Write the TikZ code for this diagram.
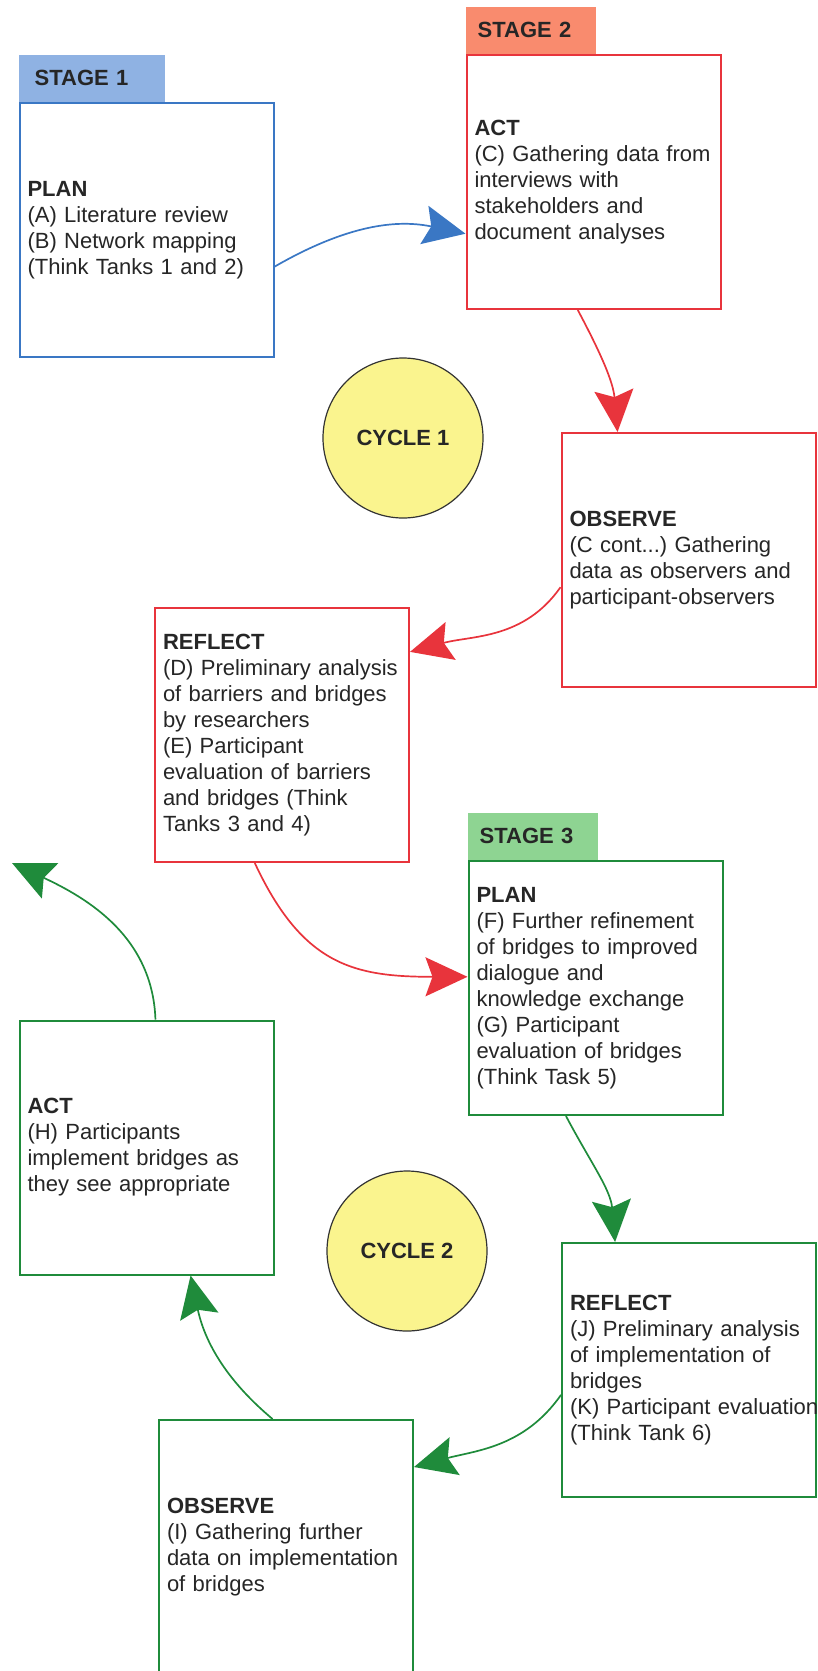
\documentclass[tikz,border=0pt]{standalone}
\usepackage{fontspec}
\setmainfont{Liberation Sans}
\usepackage{xcolor}
\usetikzlibrary{positioning,arrows.meta}

\definecolor{planblue}{HTML}{3A77C4}
\definecolor{stageblue}{HTML}{8FB2E3}
\definecolor{actred}{HTML}{E8343C}
\definecolor{stagered}{HTML}{F98B6E}
\definecolor{cyclegreen}{HTML}{1F8B3B}
\definecolor{stagegreen}{HTML}{8ED492}
\definecolor{cycleyellow}{HTML}{FAF48E}

\begin{document}
\begin{tikzpicture}
		[x=1pt,y=1pt,>={Stealth[length=42pt,width=39pt,inset=7pt]},
		box/.style={rectangle,fill=white,line width=2pt,minimum width=254pt,minimum height=254pt,inner xsep=8pt,text width=238pt,align=left,text=black!85,font=\fontsize{22}{26}\selectfont},
		bluebox/.style={box,draw=planblue},
		redbox/.style={box,draw=actred},
		greenbox/.style={box,draw=cyclegreen},
		tab/.style={rectangle,minimum height=47pt,inner xsep=12pt,text width=106pt,align=left,text=black!85,font=\bfseries\fontsize{22}{26}\selectfont},
		cycle/.style={circle,draw=black!80,fill=cycleyellow,line width=1.2pt,inner sep=0pt,minimum size=160pt,text=black!85,font=\bfseries\fontsize{22}{26}\selectfont},
		link/.style={->,line width=1.7pt}]
		\useasboundingbox (0,0) rectangle (817,-1671);

		\node [bluebox] (plan1) at (146.5,-230) {\textbf{PLAN}\\(A) Literature review\\(B) Network mapping\\(Think Tanks 1 and 2)};
		\node [redbox] (act1) at (593.5,-182) {\textbf{ACT}\\(C) Gathering data from\\interviews with\\stakeholders and\\document analyses};
		\node [redbox] (obs1) at (688.5,-560) {\textbf{OBSERVE}\\(C cont...)\ Gathering\\data as observers and\\participant-observers};
		\node [redbox] (ref1) at (282,-735) {\textbf{REFLECT}\\(D) Preliminary analysis\\of barriers and bridges\\by researchers\\(E) Participant\\evaluation of barriers\\and bridges (Think\\Tanks 3 and 4)};
		\node [greenbox] (plan2) at (595.5,-988) {\textbf{PLAN}\\(F) Further refinement\\of bridges to improved\\dialogue and\\knowledge exchange\\(G) Participant\\evaluation of bridges\\(Think Task 5)};
		\node [greenbox] (act2) at (146.5,-1147.5) {\textbf{ACT}\\(H) Participants\\implement bridges as\\they see appropriate};
		\node [greenbox] (ref2) at (689,-1370) {\textbf{REFLECT}\\(J) Preliminary analysis\\of implementation of\\bridges\\\mbox{(K) Participant evaluation}\\(Think Tank 6)};
		\node [greenbox] (obs2) at (286,-1547) {\textbf{OBSERVE}\\(I) Gathering further\\data on implementation\\of bridges};

		\node [tab,fill=stageblue,inner xsep=16pt,text width=114pt] (t1) [above right=0pt and 0pt of plan1.north west] {STAGE 1};
		\node [tab,fill=stagered] (t2) [above right=0pt and 0pt of act1.north west] {STAGE 2};
		\node [tab,fill=stagegreen] (t3) [above right=0pt and 0pt of plan2.north west] {STAGE 3};

		\node [cycle] (cyc1) at (403,-438) {CYCLE 1};
		\node [cycle] (cyc2) at (407,-1251) {CYCLE 2};
		\coordinate (exit) at (12,-863);

		\draw [link,planblue] (plan1.-16) to [out=30,in=168] (act1.202);
		\draw [link,actred] (act1.263) to [out=-62,in=95] (obs1.119);
		\draw [link,actred] (obs1.192) to [out=235,in=15] (ref1.33);
		\draw [link,actred] (ref1.258) to [out=-65,in=180,looseness=1.2] (plan2.175);
		\draw [link,cyclegreen] (plan2.257) to [out=-62,in=95] (ref2.120);
		\draw [link,cyclegreen] (ref2.191) to [out=235,in=15] (obs2.32);
		\draw [link,cyclegreen] (obs2.96) to [out=140,in=-78] (act2.-71);
		\draw [link,cyclegreen] (act2.86) to [out=92,in=-25] (exit);

	\end{tikzpicture}
\end{document}
